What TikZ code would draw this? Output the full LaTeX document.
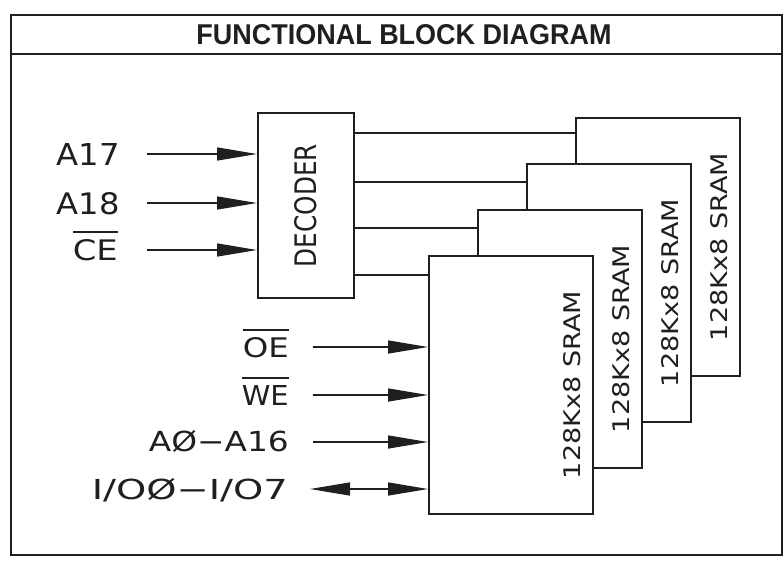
\documentclass[tikz,border=0pt]{standalone}
\usepackage{fontspec}
\setmainfont{DejaVu Sans}
\newfontfamily\titlefont{Liberation Sans}
\usetikzlibrary{arrows.meta}
\newcommand\fitbox[3]{\resizebox{#1pt}{#2pt}{#3}}
\newcommand\ovbar[1]{\vbox{\hrule height 1.8pt\kern 6pt\hbox{#1}}}
\begin{document}
\begin{tikzpicture}[x=1pt,y=-1pt,
  ink/.style={draw=black!88},
  frameline/.style={ink, line width=2.4pt},
  boxline/.style={ink, line width=2pt, fill=white, inner sep=0pt},
  srambox/.style={boxline, minimum width=164pt, minimum height=258pt, anchor=north west},
  wire/.style={ink, line width=1.4pt},
  inarrow/.style={wire, -{Triangle[length=40pt,width=13pt]}},
  bidir/.style={wire, {Triangle[length=40pt,width=13pt]}-{Triangle[length=40pt,width=13pt]}},
  lbl/.style={inner sep=0pt, anchor=base east, text=black!88},
  vlbl/.style={inner sep=0pt, rotate=90, text=black!88}
]
\useasboundingbox (0,0) rectangle (784,563);
% frame and title
\draw[frameline] (11,15) rectangle (782,555);
\draw[frameline] (11,54) -- (782,54);
\node[inner sep=0pt, text=black!88] (title) at (404,35) {\fitbox{415}{20}{\titlefont\bfseries FUNCTIONAL BLOCK DIAGRAM}};

% decoder
\node[boxline, minimum width=96pt, minimum height=185pt, anchor=north west] (dec) at (257,112) {};
\node[vlbl] (dectext) at (dec.center) {\fitbox{123}{22}{DECODER}};

% SRAM stack, back to front
\node[srambox] (s4) at (575,117) {};
\node[vlbl] (t4) at ([xshift=-22pt]s4.east) {\fitbox{188}{17}{128Kx8 SRAM}};
\node[srambox] (s3) at (526,163) {};
\node[vlbl] (t3) at ([xshift=-22pt]s3.east) {\fitbox{188}{17}{128Kx8 SRAM}};
\node[srambox] (s2) at (477,209) {};
\node[vlbl] (t2) at ([xshift=-22pt]s2.east) {\fitbox{188}{17}{128Kx8 SRAM}};
\node[srambox] (s1) at (428,255) {};
\node[vlbl] (t1) at ([xshift=-22pt]s1.east) {\fitbox{188}{17}{128Kx8 SRAM}};

% decoder outputs
\coordinate (o4) at (0,133);
\coordinate (o3) at (0,182);
\coordinate (o2) at (0,228);
\coordinate (o1) at (0,275);
\draw[wire] (dec.east |- o4) -- (s4.west |- o4);
\draw[wire] (dec.east |- o3) -- (s3.west |- o3);
\draw[wire] (dec.east |- o2) -- (s2.west |- o2);
\draw[wire] (dec.east |- o1) -- (s1.west |- o1);

% decoder inputs
\node[lbl] (la17) at (120,165) {\fitbox{63}{22}{A17}};
\node[lbl] (la18) at (120,214) {\fitbox{63}{22}{A18}};
\node[lbl] (lce) at (118,260) {\ovbar{\fitbox{45}{21}{CE}}};
\coordinate (ia17) at (147,154);
\coordinate (ia18) at (147,203);
\coordinate (ice) at (147,250);
\draw[inarrow] (ia17) -- (ia17 -| dec.west);
\draw[inarrow] (ia18) -- (ia18 -| dec.west);
\draw[inarrow] (ice) -- (ice -| dec.west);

% SRAM inputs
\node[lbl] (loe) at (289,357) {\ovbar{\fitbox{46}{20}{OE}}};
\node[lbl] (lwe) at (289,405) {\ovbar{\fitbox{47}{20}{WE}}};
\node[lbl] (laddr) at (289,451) {\fitbox{140}{21}{AØ−A16}};
\node[lbl] (lio) at (288,499) {\fitbox{196}{21}{I/OØ−I/O7}};
\coordinate (ioe) at (313,347);
\coordinate (iwe) at (313,395);
\coordinate (iaddr) at (313,442);
\coordinate (iio) at (310,489);
\draw[inarrow] (ioe) -- (ioe -| s1.west);
\draw[inarrow] (iwe) -- (iwe -| s1.west);
\draw[inarrow] (iaddr) -- (iaddr -| s1.west);
\draw[bidir] (iio) -- (iio -| s1.west);
\end{tikzpicture}
\end{document}
